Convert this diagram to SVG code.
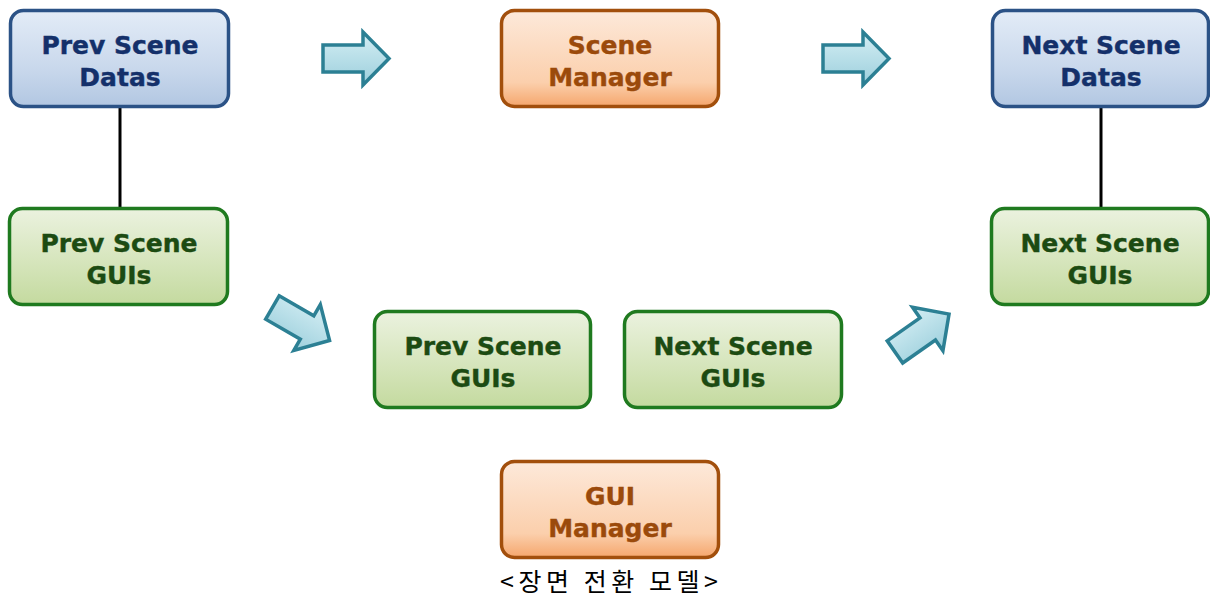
<svg xmlns="http://www.w3.org/2000/svg" width="1210" height="597" viewBox="0 0 1210 597">
<defs>
<linearGradient id="gBlue" x1="0" y1="0" x2="0" y2="1"><stop offset="0" stop-color="#e3ecf7"/><stop offset="0.6" stop-color="#c9d8ec"/><stop offset="1" stop-color="#b2c7e2"/></linearGradient>
<linearGradient id="gOrange" x1="0" y1="0" x2="0" y2="1"><stop offset="0" stop-color="#fde9da"/><stop offset="0.75" stop-color="#fbcfac"/><stop offset="1" stop-color="#f5a66c"/></linearGradient>
<linearGradient id="gGreen" x1="0" y1="0" x2="0" y2="1"><stop offset="0" stop-color="#ebf2df"/><stop offset="0.6" stop-color="#d4e4b9"/><stop offset="1" stop-color="#c4da9f"/></linearGradient>
<linearGradient id="gArrow" x1="0" y1="0" x2="0" y2="1"><stop offset="0" stop-color="#d4eef4"/><stop offset="1" stop-color="#9ccfdc"/></linearGradient>
<path id="arrow" d="M-33,-13.5 L7,-13.5 L7,-26.5 L33,0 L7,26.5 L7,13.5 L-33,13.5 Z"/>
</defs>
<style>
.box{stroke-width:3.5}
.blue{fill:url(#gBlue);stroke:#2b5286}
.orange{fill:url(#gOrange);stroke:#a24f0c}
.green{fill:url(#gGreen);stroke:#1f7a1f}
.t{font-family:"DejaVu Sans",sans-serif;font-weight:bold;font-size:25px;text-anchor:middle;stroke-width:0.4}
.tb{fill:#14306a;stroke:#14306a}
.to{fill:#9b4a0b;stroke:#9b4a0b}
.tg{fill:#1c4b12;stroke:#1c4b12}
.arr{fill:url(#gArrow);stroke:#2c8094;stroke-width:3.5;stroke-linejoin:miter}
.link{stroke:#000;stroke-width:3;fill:none}
.cap{font-family:"Noto Sans CJK KR","Noto Sans",sans-serif;font-size:25px;fill:#000}
</style>
<g id="connectors">
<line class="link" x1="120" y1="108" x2="120" y2="207"/>
<line class="link" x1="1101" y1="108" x2="1101" y2="207"/>
<use href="#arrow" class="arr" transform="translate(356,58.5)"/>
<use href="#arrow" class="arr" transform="translate(856,58.5)"/>
<use href="#arrow" class="arr" transform="translate(301,324) rotate(30)"/>
<use href="#arrow" class="arr" transform="translate(922,333) rotate(-35)"/>
</g>
<g id="prev-scene-datas">
<rect class="box blue" x="10.5" y="10.5" width="218" height="96" rx="13"/>
<text class="t tb" x="120" y="54">Prev Scene</text>
<text class="t tb" x="120" y="86">Datas</text>
</g>
<g id="scene-manager">
<rect class="box orange" x="501.5" y="10.5" width="217" height="96" rx="13"/>
<text class="t to" x="610" y="54">Scene</text>
<text class="t to" x="610" y="86">Manager</text>
</g>
<g id="next-scene-datas">
<rect class="box blue" x="992.5" y="10.5" width="216" height="96" rx="13"/>
<text class="t tb" x="1101" y="54">Next Scene</text>
<text class="t tb" x="1101" y="86">Datas</text>
</g>
<g id="prev-scene-guis-left">
<rect class="box green" x="9.5" y="208.5" width="218" height="96" rx="13"/>
<text class="t tg" x="119" y="252">Prev Scene</text>
<text class="t tg" x="119" y="284">GUIs</text>
</g>
<g id="next-scene-guis-right">
<rect class="box green" x="991.5" y="208.5" width="217" height="96" rx="13"/>
<text class="t tg" x="1100" y="252">Next Scene</text>
<text class="t tg" x="1100" y="284">GUIs</text>
</g>
<g id="prev-scene-guis-mid">
<rect class="box green" x="374.5" y="311.5" width="216" height="96" rx="13"/>
<text class="t tg" x="483" y="355">Prev Scene</text>
<text class="t tg" x="483" y="387">GUIs</text>
</g>
<g id="next-scene-guis-mid">
<rect class="box green" x="624.5" y="311.5" width="217" height="96" rx="13"/>
<text class="t tg" x="733" y="355">Next Scene</text>
<text class="t tg" x="733" y="387">GUIs</text>
</g>
<g id="gui-manager">
<rect class="box orange" x="501.5" y="461.5" width="217" height="96" rx="13"/>
<text class="t to" x="610" y="505">GUI</text>
<text class="t to" x="610" y="537">Manager</text>
</g>
<text class="cap" x="500" y="591" textLength="218" lengthAdjust="spacing">&lt;장면 전환 모델&gt;</text>
</svg>
